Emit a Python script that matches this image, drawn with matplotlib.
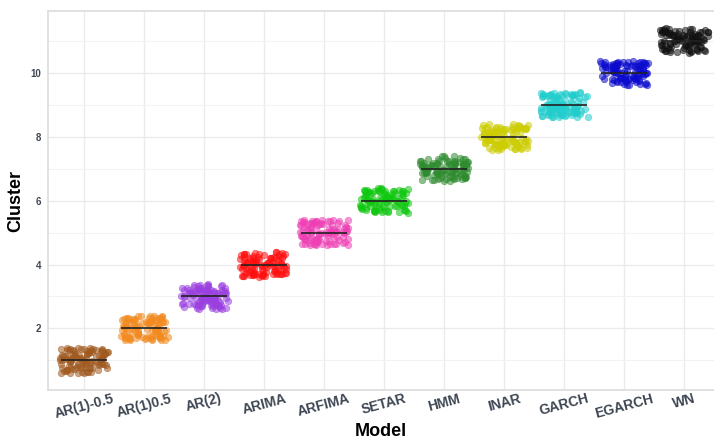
import matplotlib.pyplot as plt
import numpy as np

plt.rcParams['font.family'] = ['Liberation Sans', 'DejaVu Sans']

models = ['AR(1)-0.5', 'AR(1)0.5', 'AR(2)', 'ARIMA', 'ARFIMA', 'SETAR',
          'HMM', 'INAR', 'GARCH', 'EGARCH', 'WN']
clusters = [1, 2, 3, 4, 5, 6, 7, 8, 9, 10, 11]
medians = [1, 2, 3, 4, 5, 6, 7, 8, 9, 10, 11]
n_series = [100] * 11
colors = ['#A0591E', '#F28A1E', '#9A3FE0', '#FF1010', '#EE3FB4', '#10C810',
          '#2E8B2E', '#CDCD00', '#20CDCD', '#0A0ACD', '#111111']

fig = plt.figure(figsize=(7.14, 4.41), dpi=100)
ax = fig.add_axes([48 / 714, 51 / 441, 666 / 714, 379 / 441])

# jitter like geom_jitter (display only)
rng = np.random.default_rng(7)
for i, (c, n, col) in enumerate(zip(clusters, n_series, colors)):
    xpos = i + 1 + rng.uniform(-0.4, 0.4, n)
    ypos = c + rng.uniform(-0.4, 0.4, n)
    ax.scatter(xpos, ypos, s=22, color=col, alpha=0.55, edgecolors=col,
               linewidths=0.5, zorder=3)
    ax.hlines(medians[i], i + 1 - 0.38, i + 1 + 0.38, color='#222222',
              linewidth=1.2, zorder=4)

ax.set_xlim(0.4, 11.5)
ax.set_ylim(0.07, 11.94)
ax.set_xticks(range(1, 12))
ax.set_xticklabels(models, rotation=15, fontsize=10, fontweight='bold',
                   color='#3D4652')
ax.set_yticks([2, 4, 6, 8, 10])
ax.set_yticks([1, 3, 5, 7, 9, 11], minor=True)
ax.tick_params(axis='y', labelsize=7, colors='#3D4652', length=0, pad=5)
ax.tick_params(axis='x', length=0, pad=1)
ax.tick_params(axis='y', which='minor', length=0)
for lbl in ax.get_yticklabels():
    lbl.set_fontweight('bold')

ax.grid(True, which='major', color='#EBEBEB', linewidth=1.0)
ax.grid(True, which='minor', axis='y', color='#F2F2F2', linewidth=0.8)
ax.set_axisbelow(True)
for side in ['left', 'bottom', 'top']:
    ax.spines[side].set_color('#DCDCDC')
    ax.spines[side].set_linewidth(1.2)
ax.spines['right'].set_visible(False)

ax.set_xlabel('Model', fontsize=13, fontweight='bold', labelpad=2)
ax.set_ylabel('Cluster', fontsize=13, fontweight='bold', labelpad=4)

fig.savefig('out.png', dpi=100)
